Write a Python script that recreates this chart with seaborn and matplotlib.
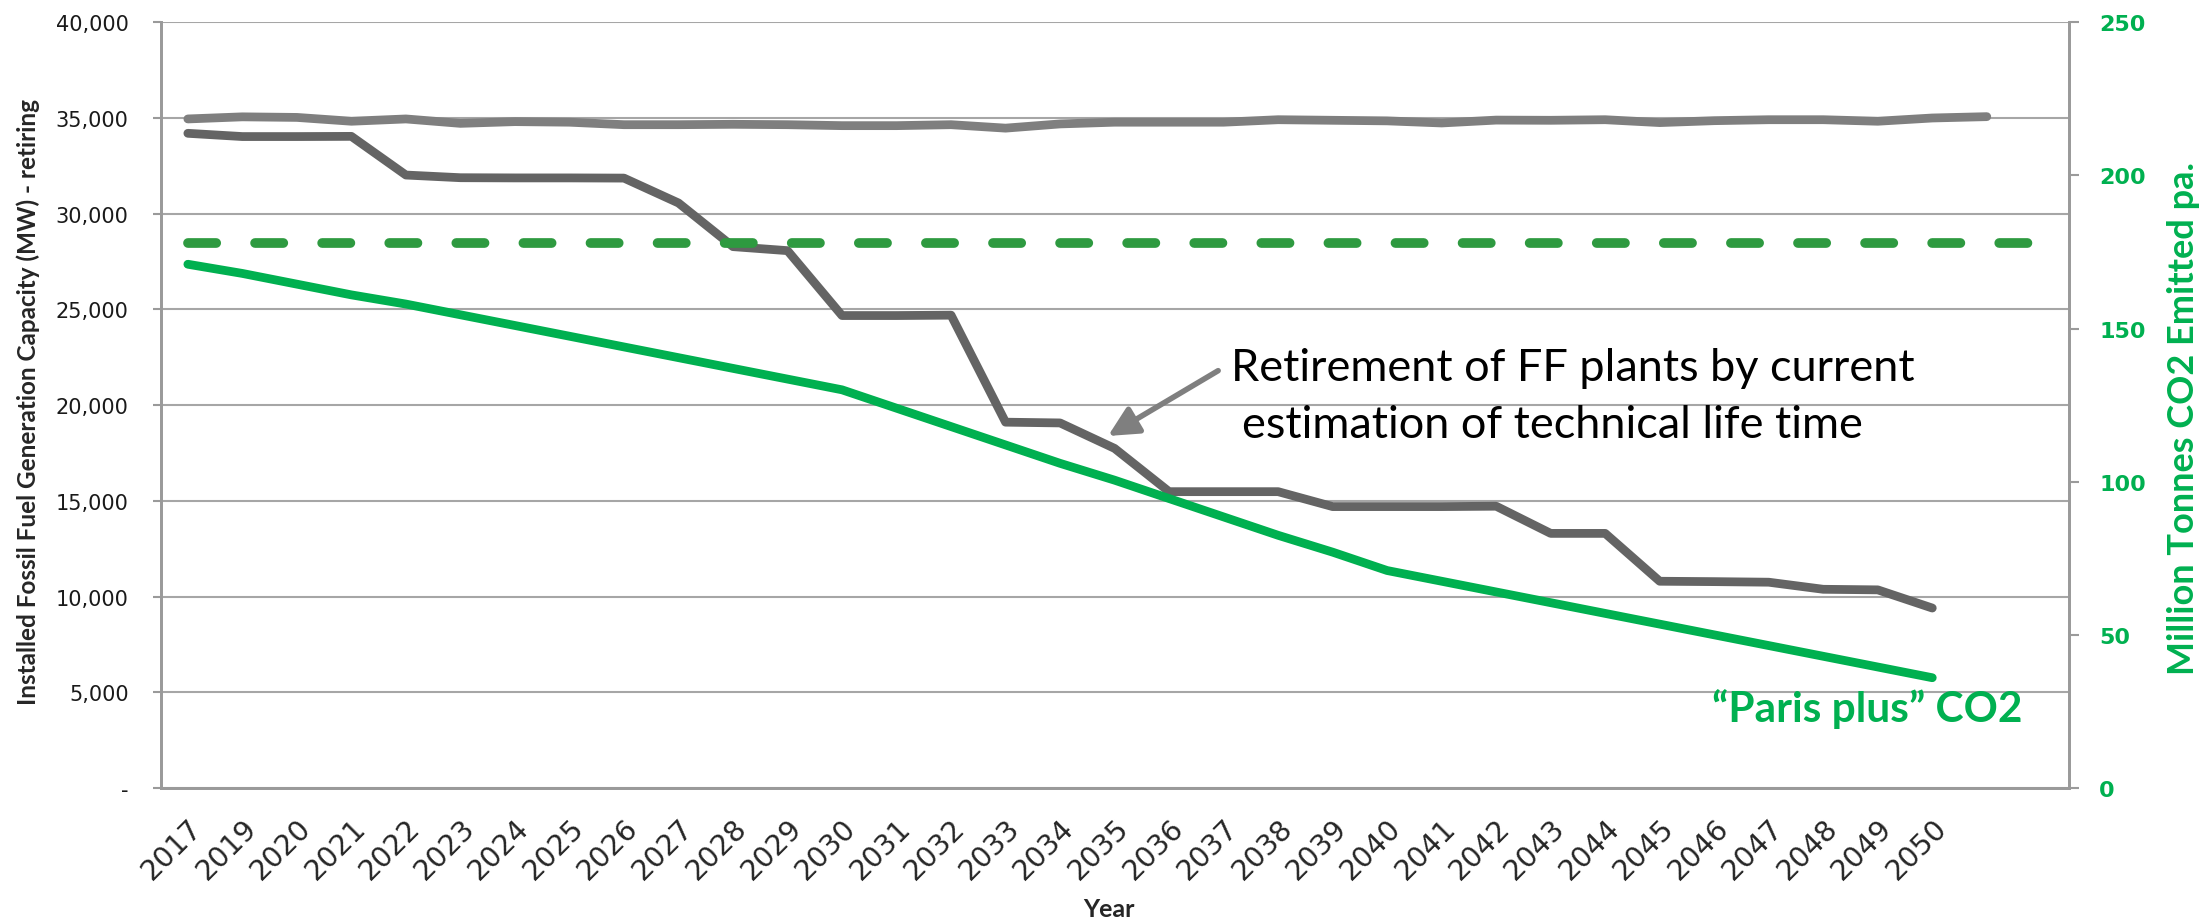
import seaborn as sns
import matplotlib.pyplot as plt
import pandas as pd
from matplotlib.ticker import FuncFormatter

# category axis (2018 is missing in the source, last two slots unlabelled)
years = ['2017', '2019', '2020', '2021', '2022', '2023', '2024', '2025', '2026',
         '2027', '2028', '2029', '2030', '2031', '2032', '2033', '2034', '2035',
         '2036', '2037', '2038', '2039', '2040', '2041', '2042', '2043', '2044',
         '2045', '2046', '2047', '2048', '2049', '2050', '', '']

# installed capacity (MW), left axis
installed = [34950, 35060, 35030, 34830, 34950, 34720, 34810, 34780, 34650, 34650,
             34670, 34650, 34600, 34600, 34650, 34470, 34690, 34780, 34780, 34780,
             34910, 34880, 34850, 34740, 34890, 34880, 34910, 34760, 34860, 34910,
             34910, 34830, 35000, 35070]
retiring = [34200, 34030, 34030, 34040, 32020, 31880, 31870, 31870, 31860, 30560,
            28280, 28070, 24680, 24680, 24700, 19110, 19070, 17740, 15480, 15480,
            15480, 14700, 14700, 14700, 14720, 13300, 13300, 10800, 10780, 10750,
            10380, 10350, 9400]

# CO2 (million tonnes pa), right axis
paris_co2 = [171, 168, 164.5, 161, 158, 154.5, 151, 147.5, 144, 140.5, 137, 133.5,
             130, 124, 118, 112, 106, 100.5, 94.5, 88.5, 82.5, 77, 71, 67.5, 64,
             60.5, 57, 53.5, 50, 46.5, 43, 39.5, 36]
current_co2 = [178, 178, 178, 178, 178, 178, 178, 178, 178, 178, 178, 178, 178,
               178, 178, 178, 178, 178, 178, 178, 178, 178, 178, 178, 178, 178,
               178, 178, 178, 178, 178, 178, 178, 178, 178]

left_ticks = [0, 5000, 10000, 15000, 20000, 25000, 30000, 35000, 40000]
right_ticks = [0, 50, 100, 150, 200, 250]

GREY_TOP = '#7f7f7f'
GREY_DARK = '#646464'
GREEN = '#00b050'
GREEN_DASH = '#2e9a40'
AXIS_GREY = '#9a9a9a'
TEXT_FONT = ['Lato', 'DejaVu Sans']


def frame(values):
    return pd.DataFrame({'pos': range(len(values)), 'value': values})


sns.set_style('white')
plt.rcParams['font.family'] = ['DejaVu Sans']

fig = plt.figure(figsize=(22.06, 9.2), dpi=100)
ax1 = fig.add_axes([0.0728, 0.1424, 0.8649, 0.8323])
ax2 = ax1.twinx()

sns.lineplot(data=frame(installed), x='pos', y='value', ax=ax1, color=GREY_TOP,
             linewidth=6.3, solid_capstyle='round', solid_joinstyle='round', errorbar=None)
sns.lineplot(data=frame(retiring), x='pos', y='value', ax=ax1, color=GREY_DARK,
             linewidth=6.3, solid_capstyle='round', solid_joinstyle='round', errorbar=None)
sns.lineplot(data=frame(current_co2), x='pos', y='value', ax=ax2, color=GREEN_DASH,
             linewidth=7, errorbar=None)
ax2.lines[-1].set_dashes((2.9, 4.0))
ax2.lines[-1].set_dash_capstyle('round')
sns.lineplot(data=frame(paris_co2), x='pos', y='value', ax=ax2, color=GREEN,
             linewidth=6.3, solid_capstyle='round', solid_joinstyle='round', errorbar=None)

# axes limits and ticks
ax1.set_xlim(-0.5, len(years) - 0.5)
ax1.set_ylim(0, 40000)
ax2.set_ylim(0, 250)
ax1.set_yticks(left_ticks)
ax1.yaxis.set_major_formatter(FuncFormatter(lambda v, _: '-' if v == 0 else f'{v:,.0f}'))
ax2.set_yticks(right_ticks)

ax1.set_xticks([p - 0.5 for p in range(len(years) + 1)])
ax1.set_xticklabels([])
ax1.set_xticks(range(len(years)), minor=True)
ax1.set_xticklabels(years, minor=True, rotation=45, ha='right', va='top',
                    rotation_mode='anchor', fontsize=20.5)

ax1.tick_params(axis='x', which='major', direction='out', length=7, width=1.5, color=AXIS_GREY)
ax1.tick_params(axis='x', which='minor', length=0, pad=18)
ax1.tick_params(axis='y', direction='out', length=6, width=1.5, color=AXIS_GREY,
                labelsize=15, pad=17, labelcolor='#1a1a1a')
ax2.tick_params(axis='y', direction='out', length=7, width=1.5, color=AXIS_GREY,
                labelsize=16, pad=15, labelcolor=GREEN)
for lab in ax2.get_yticklabels():
    lab.set_fontweight('bold')

ax1.yaxis.grid(True, color='#a6a6a6', linewidth=1.5)
ax1.set_axisbelow(True)
for ax in (ax1, ax2):
    ax.spines['top'].set_visible(False)
    for side in ('left', 'right', 'bottom'):
        ax.spines[side].set_color(AXIS_GREY)
        ax.spines[side].set_linewidth(2)

ax1.set_xlabel('Year', fontsize=18, fontweight='bold', family=TEXT_FONT)
ax1.xaxis.set_label_coords(0.497, -0.142)
ax1.set_ylabel('Installed Fossil Fuel Generation Capacity (MW) - retiring', fontsize=17.5,
               fontweight='bold', family=TEXT_FONT)
ax1.yaxis.set_label_coords(-0.063, 0.506)
ax2.set_ylabel('Million Tonnes CO2 Emitted pa.', fontsize=26, fontweight='bold',
               color=GREEN, family=TEXT_FONT)
ax2.yaxis.set_label_coords(1.0516, 0.484)

# annotations
ax1.annotate('', xy=(16.88, 18389), xytext=(18.9, 21800),
             arrowprops=dict(arrowstyle='-|>,head_length=0.6,head_width=0.3',
                             color=GREY_TOP, lw=4, mutation_scale=30, shrinkA=0, shrinkB=0))
ax1.text(19.14, 21314, 'Retirement of FF plants by current', fontsize=32.5,
         family=TEXT_FONT, ha='left', va='baseline', color='black')
ax1.text(19.34, 18321, 'estimation of technical life time', fontsize=32.5,
         family=TEXT_FONT, ha='left', va='baseline', color='black')
ax2.text(27.96, 21.97, '\u201cParis plus\u201d CO2', fontsize=30.5, fontweight='bold',
         family=TEXT_FONT, ha='left', va='baseline', color=GREEN)

fig.savefig('out.png', dpi=100)
